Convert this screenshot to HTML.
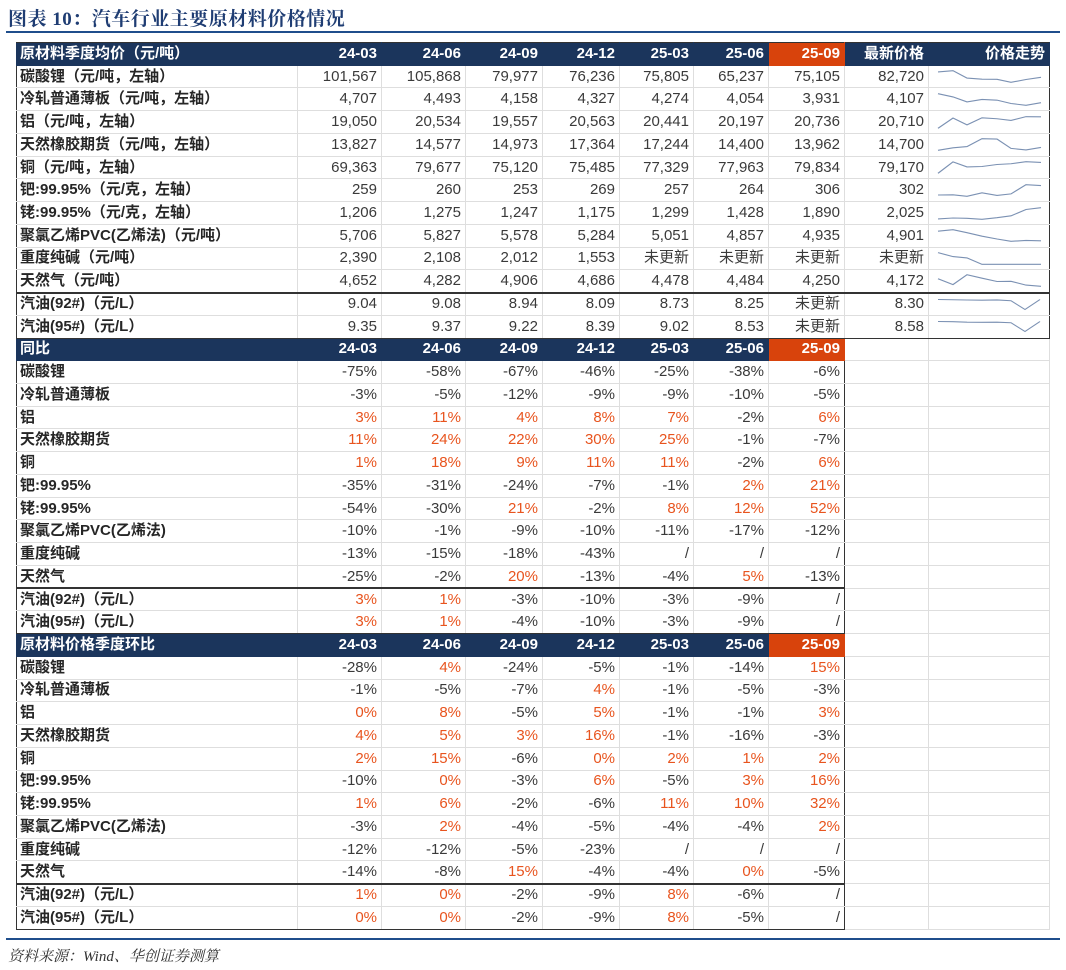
<!DOCTYPE html>
<html><head><meta charset="utf-8">
<style>
body{margin:0;width:1066px;height:970px;background:#fff;position:relative;overflow:hidden;font-family:"Liberation Sans","Noto Sans CJK SC",sans-serif;}
.title{position:absolute;left:8px;top:4px;font-family:"Liberation Serif","Noto Serif CJK SC",serif;font-weight:bold;font-size:19px;color:#1f3d73;letter-spacing:0.5px}
.hl{position:absolute;left:6px;width:1054px;height:2px;background:#1f4e8c}
.src{position:absolute;left:8px;top:945px;font-family:"Liberation Serif","Noto Serif CJK SC",serif;font-style:italic;font-size:15px;color:#333}
table{position:absolute;left:16px;top:42px;border-collapse:collapse;table-layout:fixed;width:1033px;height:887px}
tr{height:22.74px}
td{border:1px solid #dedede;height:16px;padding:0 4px 0 0;text-align:right;font-size:15px;color:#3a3a3a;white-space:nowrap;overflow:hidden;line-height:14px;vertical-align:middle}
td.l{text-align:left;padding-left:3px;font-weight:bold;color:#262626;border-left:1.5px solid #333}
tr.h td{background:#1b355c;color:#fff;font-weight:bold;border-color:#1b355c}
tr.h td.o{background:#d8430c;border-color:#d8430c}
tr.h td.w{background:#fff;border:1px solid #dedede}
.r{color:#e8541e}
td.rb{border-right:1.5px solid #333}
tr.g td.k{border-top:2px solid #333}
tr.b td.k{border-bottom:1.5px solid #333}
tr.t td.k{border-top:1.5px solid #333}
svg{display:block}
td.s{padding:0}
</style></head><body>
<div class="title">图表 10：汽车行业主要原材料价格情况</div>
<div class="hl" style="top:31px"></div>
<table>
<colgroup><col style="width:281px"><col style="width:84px"><col style="width:84px"><col style="width:77px"><col style="width:77px"><col style="width:74px"><col style="width:75px"><col style="width:76px"><col style="width:84px"><col style="width:121px"></colgroup>
<tr class="h t"><td class="l k" style="color:#fff">原材料季度均价（元/吨）</td><td class="k">24-03</td><td class="k">24-06</td><td class="k">24-09</td><td class="k">24-12</td><td class="k">25-03</td><td class="k">25-06</td><td class="o k">25-09</td><td class="k">最新价格</td><td class="k rb">价格走势</td></tr>
<tr><td class="l">碳酸锂（元/吨，左轴）</td><td>101,567</td><td>105,868</td><td>79,977</td><td>76,236</td><td>75,805</td><td>65,237</td><td>75,105</td><td>82,720</td><td class="s rb"><svg width="121" height="15" viewBox="0 0 121 18" preserveAspectRatio="none"><polyline fill="none" stroke="#7b91b3" stroke-width="1.3" points="9,3.5 24,2 38,10.9 53,12.2 68,12.4 82,16 97,12.6 112,10"/></svg></td></tr>
<tr><td class="l">冷轧普通薄板（元/吨，左轴）</td><td>4,707</td><td>4,493</td><td>4,158</td><td>4,327</td><td>4,274</td><td>4,054</td><td>3,931</td><td>4,107</td><td class="s rb"><svg width="121" height="15" viewBox="0 0 121 18" preserveAspectRatio="none"><polyline fill="none" stroke="#7b91b3" stroke-width="1.3" points="9,2 24,5.9 38,11.9 53,8.9 68,9.8 82,13.8 97,16 112,12.8"/></svg></td></tr>
<tr><td class="l">铝（元/吨，左轴）</td><td>19,050</td><td>20,534</td><td>19,557</td><td>20,563</td><td>20,441</td><td>20,197</td><td>20,736</td><td>20,710</td><td class="s rb"><svg width="121" height="15" viewBox="0 0 121 18" preserveAspectRatio="none"><polyline fill="none" stroke="#7b91b3" stroke-width="1.3" points="9,16 24,3.7 38,11.8 53,3.4 68,4.5 82,6.5 97,2 112,2.2"/></svg></td></tr>
<tr><td class="l">天然橡胶期货（元/吨，左轴）</td><td>13,827</td><td>14,577</td><td>14,973</td><td>17,364</td><td>17,244</td><td>14,400</td><td>13,962</td><td>14,700</td><td class="s rb"><svg width="121" height="15" viewBox="0 0 121 18" preserveAspectRatio="none"><polyline fill="none" stroke="#7b91b3" stroke-width="1.3" points="9,16 24,13 38,11.5 53,2 68,2.5 82,13.7 97,15.5 112,12.5"/></svg></td></tr>
<tr><td class="l">铜（元/吨，左轴）</td><td>69,363</td><td>79,677</td><td>75,120</td><td>75,485</td><td>77,329</td><td>77,963</td><td>79,834</td><td>79,170</td><td class="s rb"><svg width="121" height="15" viewBox="0 0 121 18" preserveAspectRatio="none"><polyline fill="none" stroke="#7b91b3" stroke-width="1.3" points="9,16 24,2.2 38,8.3 53,7.8 68,5.4 82,4.5 97,2 112,2.9"/></svg></td></tr>
<tr><td class="l">钯:99.95%（元/克，左轴）</td><td>259</td><td>260</td><td>253</td><td>269</td><td>257</td><td>264</td><td>306</td><td>302</td><td class="s rb"><svg width="121" height="15" viewBox="0 0 121 18" preserveAspectRatio="none"><polyline fill="none" stroke="#7b91b3" stroke-width="1.3" points="9,14.4 24,14.2 38,16 53,11.8 68,14.9 82,13.1 97,2 112,3.1"/></svg></td></tr>
<tr><td class="l">铑:99.95%（元/克，左轴）</td><td>1,206</td><td>1,275</td><td>1,247</td><td>1,175</td><td>1,299</td><td>1,428</td><td>1,890</td><td>2,025</td><td class="s rb"><svg width="121" height="15" viewBox="0 0 121 18" preserveAspectRatio="none"><polyline fill="none" stroke="#7b91b3" stroke-width="1.3" points="9,15.5 24,14.4 38,14.8 53,16 68,14 82,11.8 97,4.2 112,2"/></svg></td></tr>
<tr><td class="l">聚氯乙烯PVC(乙烯法)（元/吨）</td><td>5,706</td><td>5,827</td><td>5,578</td><td>5,284</td><td>5,051</td><td>4,857</td><td>4,935</td><td>4,901</td><td class="s rb"><svg width="121" height="15" viewBox="0 0 121 18" preserveAspectRatio="none"><polyline fill="none" stroke="#7b91b3" stroke-width="1.3" points="9,3.8 24,2 38,5.6 53,9.8 68,13.2 82,16 97,14.9 112,15.4"/></svg></td></tr>
<tr><td class="l">重度纯碱（元/吨）</td><td>2,390</td><td>2,108</td><td>2,012</td><td>1,553</td><td>未更新</td><td>未更新</td><td>未更新</td><td>未更新</td><td class="s rb"><svg width="121" height="15" viewBox="0 0 121 18" preserveAspectRatio="none"><polyline fill="none" stroke="#7b91b3" stroke-width="1.3" points="9,2 24,6.7 38,8.3 53,16 68,16 82,16 97,16 112,16"/></svg></td></tr>
<tr><td class="l">天然气（元/吨）</td><td>4,652</td><td>4,282</td><td>4,906</td><td>4,686</td><td>4,478</td><td>4,484</td><td>4,250</td><td>4,172</td><td class="s rb"><svg width="121" height="15" viewBox="0 0 121 18" preserveAspectRatio="none"><polyline fill="none" stroke="#7b91b3" stroke-width="1.3" points="9,6.9 24,13.9 38,2 53,6.2 68,10.2 82,10 97,14.5 112,16"/></svg></td></tr>
<tr class="g"><td class="l k">汽油(92#)（元/L）</td><td class="k">9.04</td><td class="k">9.08</td><td class="k">8.94</td><td class="k">8.09</td><td class="k">8.73</td><td class="k">8.25</td><td class="k">未更新</td><td class="k">8.30</td><td class="s rb k"><svg width="121" height="15" viewBox="0 0 121 18" preserveAspectRatio="none"><polyline fill="none" stroke="#7b91b3" stroke-width="1.3" points="9,3 24,3.3 38,3.6 53,3.8 68,3.5 82,4.5 96,15 111,3"/></svg></td></tr>
<tr class="b"><td class="l k">汽油(95#)（元/L）</td><td class="k">9.35</td><td class="k">9.37</td><td class="k">9.22</td><td class="k">8.39</td><td class="k">9.02</td><td class="k">8.53</td><td class="k">未更新</td><td class="k">8.58</td><td class="s rb k"><svg width="121" height="15" viewBox="0 0 121 18" preserveAspectRatio="none"><polyline fill="none" stroke="#7b91b3" stroke-width="1.3" points="9,3 24,3.2 38,3.8 53,4 68,3.8 82,4.5 96,15 111,3"/></svg></td></tr>

<tr class="h"><td class="l" style="color:#fff">同比</td><td>24-03</td><td>24-06</td><td>24-09</td><td>24-12</td><td>25-03</td><td>25-06</td><td class="o rb">25-09</td><td class="w"></td><td class="w"></td></tr>
<tr><td class="l">碳酸锂</td><td>-75%</td><td>-58%</td><td>-67%</td><td>-46%</td><td>-25%</td><td>-38%</td><td class="rb">-6%</td><td></td><td></td></tr>
<tr><td class="l">冷轧普通薄板</td><td>-3%</td><td>-5%</td><td>-12%</td><td>-9%</td><td>-9%</td><td>-10%</td><td class="rb">-5%</td><td></td><td></td></tr>
<tr><td class="l">铝</td><td class="r">3%</td><td class="r">11%</td><td class="r">4%</td><td class="r">8%</td><td class="r">7%</td><td>-2%</td><td class="r rb">6%</td><td></td><td></td></tr>
<tr><td class="l">天然橡胶期货</td><td class="r">11%</td><td class="r">24%</td><td class="r">22%</td><td class="r">30%</td><td class="r">25%</td><td>-1%</td><td class="rb">-7%</td><td></td><td></td></tr>
<tr><td class="l">铜</td><td class="r">1%</td><td class="r">18%</td><td class="r">9%</td><td class="r">11%</td><td class="r">11%</td><td>-2%</td><td class="r rb">6%</td><td></td><td></td></tr>
<tr><td class="l">钯:99.95%</td><td>-35%</td><td>-31%</td><td>-24%</td><td>-7%</td><td>-1%</td><td class="r">2%</td><td class="r rb">21%</td><td></td><td></td></tr>
<tr><td class="l">铑:99.95%</td><td>-54%</td><td>-30%</td><td class="r">21%</td><td>-2%</td><td class="r">8%</td><td class="r">12%</td><td class="r rb">52%</td><td></td><td></td></tr>
<tr><td class="l">聚氯乙烯PVC(乙烯法)</td><td>-10%</td><td>-1%</td><td>-9%</td><td>-10%</td><td>-11%</td><td>-17%</td><td class="rb">-12%</td><td></td><td></td></tr>
<tr><td class="l">重度纯碱</td><td>-13%</td><td>-15%</td><td>-18%</td><td>-43%</td><td>/</td><td>/</td><td class="rb">/</td><td></td><td></td></tr>
<tr><td class="l">天然气</td><td>-25%</td><td>-2%</td><td class="r">20%</td><td>-13%</td><td>-4%</td><td class="r">5%</td><td class="rb">-13%</td><td></td><td></td></tr>
<tr class="g"><td class="l k">汽油(92#)（元/L）</td><td class="r k">3%</td><td class="r k">1%</td><td class="k">-3%</td><td class="k">-10%</td><td class="k">-3%</td><td class="k">-9%</td><td class="rb k">/</td><td></td><td></td></tr>
<tr class="b"><td class="l k">汽油(95#)（元/L）</td><td class="r k">3%</td><td class="r k">1%</td><td class="k">-4%</td><td class="k">-10%</td><td class="k">-3%</td><td class="k">-9%</td><td class="rb k">/</td><td></td><td></td></tr>

<tr class="h"><td class="l" style="color:#fff">原材料价格季度环比</td><td>24-03</td><td>24-06</td><td>24-09</td><td>24-12</td><td>25-03</td><td>25-06</td><td class="o rb">25-09</td><td class="w"></td><td class="w"></td></tr>
<tr><td class="l">碳酸锂</td><td>-28%</td><td class="r">4%</td><td>-24%</td><td>-5%</td><td>-1%</td><td>-14%</td><td class="r rb">15%</td><td></td><td></td></tr>
<tr><td class="l">冷轧普通薄板</td><td>-1%</td><td>-5%</td><td>-7%</td><td class="r">4%</td><td>-1%</td><td>-5%</td><td class="rb">-3%</td><td></td><td></td></tr>
<tr><td class="l">铝</td><td class="r">0%</td><td class="r">8%</td><td>-5%</td><td class="r">5%</td><td>-1%</td><td>-1%</td><td class="r rb">3%</td><td></td><td></td></tr>
<tr><td class="l">天然橡胶期货</td><td class="r">4%</td><td class="r">5%</td><td class="r">3%</td><td class="r">16%</td><td>-1%</td><td>-16%</td><td class="rb">-3%</td><td></td><td></td></tr>
<tr><td class="l">铜</td><td class="r">2%</td><td class="r">15%</td><td>-6%</td><td class="r">0%</td><td class="r">2%</td><td class="r">1%</td><td class="r rb">2%</td><td></td><td></td></tr>
<tr><td class="l">钯:99.95%</td><td>-10%</td><td class="r">0%</td><td>-3%</td><td class="r">6%</td><td>-5%</td><td class="r">3%</td><td class="r rb">16%</td><td></td><td></td></tr>
<tr><td class="l">铑:99.95%</td><td class="r">1%</td><td class="r">6%</td><td>-2%</td><td>-6%</td><td class="r">11%</td><td class="r">10%</td><td class="r rb">32%</td><td></td><td></td></tr>
<tr><td class="l">聚氯乙烯PVC(乙烯法)</td><td>-3%</td><td class="r">2%</td><td>-4%</td><td>-5%</td><td>-4%</td><td>-4%</td><td class="r rb">2%</td><td></td><td></td></tr>
<tr><td class="l">重度纯碱</td><td>-12%</td><td>-12%</td><td>-5%</td><td>-23%</td><td>/</td><td>/</td><td class="rb">/</td><td></td><td></td></tr>
<tr><td class="l">天然气</td><td>-14%</td><td>-8%</td><td class="r">15%</td><td>-4%</td><td>-4%</td><td class="r">0%</td><td class="rb">-5%</td><td></td><td></td></tr>
<tr class="g"><td class="l k">汽油(92#)（元/L）</td><td class="r k">1%</td><td class="r k">0%</td><td class="k">-2%</td><td class="k">-9%</td><td class="r k">8%</td><td class="k">-6%</td><td class="rb k">/</td><td></td><td></td></tr>
<tr class="b"><td class="l k">汽油(95#)（元/L）</td><td class="r k">0%</td><td class="r k">0%</td><td class="k">-2%</td><td class="k">-9%</td><td class="r k">8%</td><td class="k">-5%</td><td class="rb k">/</td><td></td><td></td></tr>
</table>
<div class="hl" style="top:938px"></div>
<div class="src">资料来源：Wind、华创证券测算</div>
</body></html>
